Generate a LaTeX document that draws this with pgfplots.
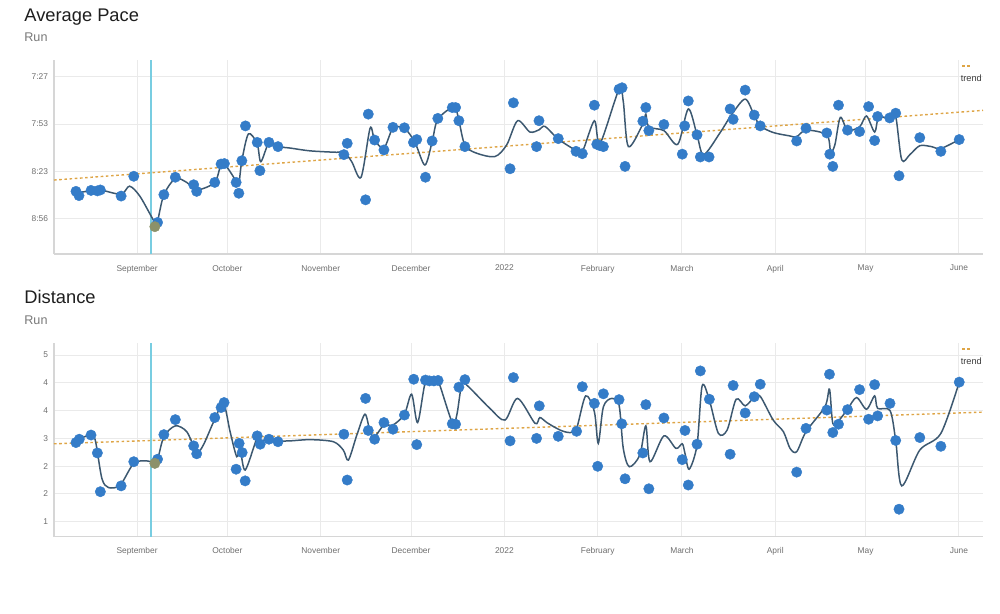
\documentclass[border=0pt]{standalone}
\usepackage{fontspec}
\setmainfont{Liberation Sans}
\usepackage{pgfplots}
\pgfplotsset{compat=1.18}
\usepackage{pgfplotstable}
\definecolor{ptblue}{RGB}{52,124,200}
\definecolor{curvec}{RGB}{60,88,112}
\definecolor{trendc}{RGB}{222,165,70}
\definecolor{gridc}{RGB}{234,234,234}
\definecolor{axc}{RGB}{214,214,214}
\definecolor{tickc}{RGB}{110,110,110}
\definecolor{cyanl}{RGB}{120,205,225}
\definecolor{olivec}{RGB}{140,145,105}

\pgfplotstableread{
x y
-20.3 0.57
-19.3 0.48
-15.3 0.59
-13.2 0.58
-12.2 0.60
-5.3 0.47
-1.1 0.89
6.8 -0.09
8.9 0.50
12.7 0.87
18.8 0.71
19.8 0.57
25.8 0.76
27.9 1.15
29.0 1.16
32.9 0.76
33.8 0.53
34.8 1.22
36.0 1.96
39.9 1.61
40.8 1.01
43.8 1.61
46.8 1.52
68.7 1.35
69.8 1.59
75.9 0.39
76.8 2.21
78.9 1.66
82.0 1.45
85.0 1.93
88.8 1.92
91.8 1.61
92.9 1.67
95.8 0.87
98.0 1.64
99.9 2.12
104.7 2.35
105.8 2.35
106.9 2.07
108.9 1.52
123.9 1.05
125.0 2.45
132.7 1.52
133.5 2.07
139.9 1.69
145.8 1.42
147.9 1.37
151.9 2.40
152.7 1.57
153.8 1.54
154.9 1.52
160.1 2.74
161.1 2.77
162.1 1.10
168.0 2.06
169.0 2.35
170.0 1.86
175.0 1.99
181.1 1.36
181.9 1.96
183.1 2.49
186.0 1.77
187.1 1.30
190.0 1.30
197.0 2.32
198.0 2.10
202.0 2.72
205.0 2.19
207.0 1.96
219.1 1.64
222.2 1.91
229.1 1.81
230.1 1.36
231.1 1.10
233.0 2.40
236.0 1.87
240.0 1.84
243.0 2.37
245.0 1.65
246.0 2.16
250.0 2.13
252.0 2.23
253.1 0.90
260.0 1.71
267.0 1.42
273.1 1.67
}\pacepts

\pgfplotstableread{
x y
-20.3 0.54
-15.3 0.58
-12.2 0.60
-5.3 0.51
-2.5 0.68
1.0 0.46
5.9 -0.09
6.8 -0.06
8.9 0.50
12.7 0.84
16.5 0.76
19.8 0.60
25.8 0.76
28.4 1.17
32.9 0.79
33.8 0.73
34.8 1.22
37.0 1.79
39.9 1.58
41.1 1.20
43.8 1.60
46.8 1.52
50.8 1.49
57.5 1.43
66.3 1.40
68.7 1.41
71.3 1.20
74.4 0.87
77.4 1.91
78.9 1.66
82.0 1.49
85.0 1.91
88.8 1.91
92.3 1.61
95.6 1.13
98.0 1.62
99.9 2.10
105.3 2.36
106.9 2.07
108.9 1.55
112.8 1.38
118.9 1.31
122.8 1.56
126.4 2.07
130.5 1.83
133.6 1.88
135.5 1.95
139.9 1.68
145.8 1.44
147.9 1.41
151.9 2.07
153.8 1.59
160.1 2.74
161.5 2.48
163.2 1.52
168.0 2.00
169.0 2.21
170.0 1.94
175.0 1.86
179.6 1.57
183.1 2.32
186.0 1.77
188.2 1.35
193.6 1.81
197.5 2.20
202.0 2.53
205.0 2.18
207.0 1.96
211.3 1.82
216.6 1.75
219.1 1.73
222.2 1.87
229.1 1.77
230.4 1.41
231.8 1.56
233.6 2.14
236.0 1.87
240.0 1.94
242.3 2.17
245.0 1.83
246.3 2.13
250.0 2.13
252.0 2.16
254.0 1.24
256.7 1.35
260.0 1.54
263.9 1.52
267.0 1.48
273.1 1.67
}\pacecurve

\pgfplotstableread{
x y
-20.3 2.90
-19.2 2.98
-15.3 3.08
-13.2 2.65
-12.2 1.72
-5.3 1.86
-1.1 2.44
6.8 2.50
8.9 3.09
12.7 3.45
18.8 2.82
19.8 2.63
25.8 3.50
27.9 3.74
28.9 3.86
32.9 2.26
33.9 2.88
34.9 2.66
35.9 1.98
39.9 3.06
40.9 2.86
43.8 2.98
46.8 2.92
68.7 3.10
69.8 2.00
75.9 3.96
76.8 3.19
78.9 2.98
82.0 3.38
85.0 3.22
88.8 3.56
91.9 4.42
92.9 2.85
95.8 4.40
97.1 4.38
98.6 4.38
100.0 4.39
104.7 3.35
105.8 3.34
106.9 4.23
108.9 4.41
123.9 2.94
125.0 4.46
132.7 3.00
133.6 3.78
139.9 3.05
146.0 3.17
147.9 4.24
151.9 3.84
153.0 2.33
154.9 4.07
160.1 3.93
161.0 3.35
162.1 2.03
168.0 2.65
169.0 3.81
170.0 1.79
175.0 3.49
181.1 2.49
182.0 3.19
183.1 1.88
186.0 2.86
187.1 4.62
190.1 3.94
197.0 2.62
198.0 4.27
202.0 3.61
205.0 4.00
207.0 4.30
219.1 2.19
222.2 3.24
229.1 3.68
230.0 4.54
231.1 3.14
233.0 3.34
236.0 3.69
240.0 4.17
243.0 3.46
245.0 4.29
246.0 3.54
250.1 3.84
252.0 2.95
253.1 1.30
260.0 3.02
267.0 2.81
273.1 4.35
}\distpts

\pgfplotstableread{
x y
-20.3 2.90
-19.2 2.98
-15.6 3.08
-13.9 2.96
-11.7 2.04
-9.5 1.82
-5.6 1.88
-1.1 2.40
3.2 2.46
5.9 2.42
6.8 2.48
8.9 3.04
12.7 3.30
16.5 3.16
19.8 2.68
22.0 2.84
25.8 3.46
28.7 3.84
30.9 3.16
33.1 2.56
34.2 2.76
35.9 2.24
39.9 3.02
40.9 2.94
43.8 2.98
46.8 2.94
50.8 2.94
57.5 2.97
65.2 2.92
68.5 2.72
70.2 2.48
73.0 3.08
75.7 3.58
77.4 3.16
78.9 3.04
82.0 3.32
85.0 3.32
88.8 3.58
91.2 4.06
93.2 3.38
95.8 4.36
98.6 4.40
100.0 4.39
104.7 3.38
106.2 3.56
107.8 4.28
109.5 4.28
117.2 3.72
122.2 3.44
126.4 3.96
132.2 3.36
133.8 3.50
136.1 3.38
140.5 3.20
143.8 3.14
146.0 3.24
149.0 4.02
151.9 3.64
153.2 2.88
154.9 3.76
157.7 3.96
160.1 3.80
161.5 2.76
163.5 2.32
167.0 2.60
169.0 3.30
170.4 2.44
175.0 3.06
179.0 2.76
181.1 2.87
182.0 2.64
183.4 2.26
186.0 2.84
187.7 4.26
190.1 3.92
193.1 3.12
196.0 3.20
199.0 3.94
202.0 3.78
205.0 3.99
207.0 4.01
211.3 3.44
214.7 3.16
216.9 2.76
219.1 2.68
222.2 3.16
228.5 3.76
230.0 4.18
231.1 3.36
233.0 3.42
236.0 3.70
239.0 3.98
242.3 3.70
245.0 4.02
246.0 3.72
250.1 3.67
252.0 2.95
254.0 1.86
260.0 2.72
267.0 3.12
273.1 4.35
}\distcurve

\tikzset{
  trendstyle/.style={trendc, line width=0.7pt, dash pattern=on 1.3pt off 1.3pt},
}
\pgfplotsset{
  runaxis/.style={
    scale only axis, width=464.5pt,
    xmin=-27.6, xmax=281,
    axis x line*=bottom, axis y line*=left,
    axis line style={draw=axc, line width=0.6pt, -},
    xtick={0,30,61,91,122,153,181,212,242,273},
    xticklabels={September,October,November,December,2022,February,March,April,May,June},
    major tick length=0pt,
    grid=major,
    major grid style={draw=gridc, line width=0.5pt},
    tick label style={font=\fontsize{4.2}{5}\selectfont, text=tickc},
    xticklabel style={yshift=-2pt},
    yticklabel style={xshift=0.5pt},
  },
  ptstyle/.style={only marks, mark=*, mark size=2.6pt, mark options={fill=ptblue, draw=ptblue, line width=0.2pt}},
  curvestyle/.style={curvec, line width=0.75pt, smooth, no marks},
}

\begin{document}
\begin{tikzpicture}
\path[use as bounding box] (0,0) rectangle (500pt,307pt);

% titles
\node[anchor=base west, inner sep=0, text={rgb,255:red,30;green,30;blue,30}, font=\fontsize{9.15}{11}\selectfont] at (12pt,296.15pt) {Average Pace};
\node[anchor=base west, inner sep=0, text={rgb,255:red,120;green,120;blue,120}, font=\fontsize{6.3}{8}\selectfont] at (12pt,286.15pt) {Run};
\node[anchor=base west, inner sep=0, text={rgb,255:red,30;green,30;blue,30}, font=\fontsize{9.15}{11}\selectfont] at (12pt,155.35pt) {Distance};
\node[anchor=base west, inner sep=0, text={rgb,255:red,120;green,120;blue,120}, font=\fontsize{6.3}{8}\selectfont] at (12pt,144.85pt) {Run};

% pace
\begin{axis}[runaxis, at={(27pt,180pt)}, anchor=south west, height=97pt,
  ymin=-0.76, ymax=3.36, ytick={0,1,2,3}, yticklabels={8:56,8:23,7:53,7:27}]
\addplot[cyanl, line width=0.6pt] coordinates {(4.6,-0.76) (4.6,3.36)};
\addplot[trendstyle] coordinates {(-27.6,0.81) (281,2.29)};
\addplot[curvestyle] table {\pacecurve};
\addplot[ptstyle] table {\pacepts};
\addplot[only marks, mark=*, mark size=2.6pt, mark options={fill=olivec, draw=olivec, line width=0.2pt}] coordinates {(5.9,-0.18)};
\end{axis}

% distance
\begin{axis}[runaxis, at={(27pt,38.65pt)}, anchor=south west, height=96.85pt,
  ymin=0.64, ymax=5.29, ytick={1,1.6667,2.3333,3,3.6667,4.3333,5}, yticklabels={1,2,2,3,4,4,5}]
\addplot[cyanl, line width=0.6pt] coordinates {(4.6,0.64) (4.6,5.29)};
\addplot[trendstyle] coordinates {(-27.6,2.87) (281,3.63)};
\addplot[curvestyle] table {\distcurve};
\addplot[ptstyle] table {\distpts};
\addplot[only marks, mark=*, mark size=2.6pt, mark options={fill=olivec, draw=olivec, line width=0.2pt}] coordinates {(5.9,2.40)};
\end{axis}

% legends
\draw[trendstyle] (481pt,274pt) -- (486pt,274pt);
\node[anchor=west, inner sep=0, text={rgb,255:red,60;green,60;blue,60}, font=\fontsize{4.6}{5}\selectfont] at (480.2pt,268pt) {trend};
\draw[trendstyle] (481pt,132.4pt) -- (486pt,132.4pt);
\node[anchor=west, inner sep=0, text={rgb,255:red,60;green,60;blue,60}, font=\fontsize{4.6}{5}\selectfont] at (480.2pt,126.2pt) {trend};
\end{tikzpicture}
\end{document}
